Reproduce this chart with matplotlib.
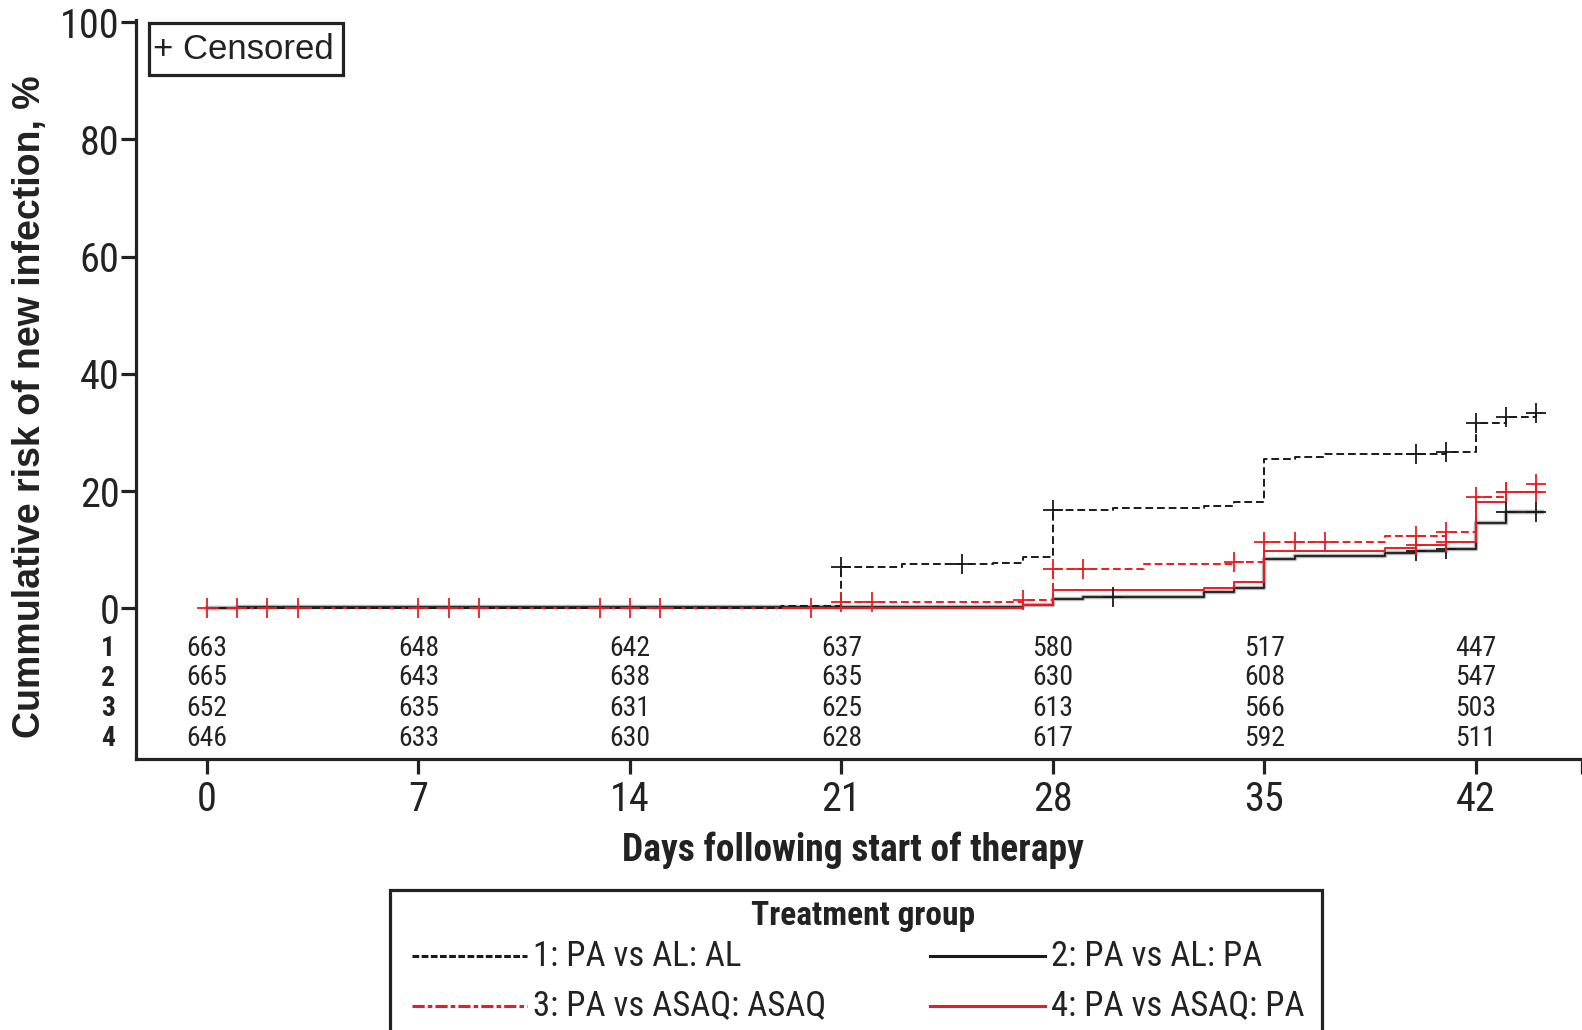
import numpy as np
import matplotlib
matplotlib.use("Agg")
import matplotlib.pyplot as plt
from matplotlib.lines import Line2D
from matplotlib.patches import Rectangle

# ---------------- data ----------------
days_ticks = [0, 7, 14, 21, 28, 35, 42]

s1_days = [0, 19, 21, 23, 26, 27, 28, 30, 33, 34, 35, 36, 37, 41, 42, 43, 44, 44.2]
s1_risk = [0, 0.4, 7.0, 7.5, 7.7, 8.7, 16.7, 17.2, 17.4, 18.1, 25.5, 25.9, 26.3, 26.6, 31.6, 32.7, 33.4, 33.4]
s1_cens = [21, 25, 28, 40, 41, 42, 43, 44]

s2_days = [0, 1, 27, 28, 29, 33, 34, 35, 36, 39, 40, 41, 42, 43, 44.2]
s2_risk = [0, 0.3, 0.5, 1.6, 2.0, 2.8, 3.4, 8.4, 8.9, 9.5, 9.8, 10.2, 14.5, 16.4, 16.4]
s2_cens = [30, 40, 41, 43, 44]

s3_days = [0, 21, 27, 28, 31, 34, 35, 39, 41, 42, 43, 44, 44.2]
s3_risk = [0, 1.1, 1.5, 6.8, 7.5, 7.9, 11.4, 12.4, 13.0, 19.0, 19.8, 21.2, 21.2]
s3_cens = [1, 3, 8, 13, 15, 21, 22, 27, 28, 29, 34, 35, 36, 37, 40, 41, 42, 43, 44]

s4_days = [0, 27, 28, 33, 34, 35, 39, 40, 41, 42, 43, 44.2]
s4_risk = [0, 0.6, 3.1, 3.5, 4.5, 9.8, 10.3, 10.85, 11.4, 18.1, 19.8, 19.8]
s4_cens = [0, 2, 7, 9, 14, 20, 40, 41, 43, 44]

risk_rows = ["1", "2", "3", "4"]
at_risk = [
    [663, 648, 642, 637, 580, 517, 447],
    [665, 643, 638, 635, 630, 608, 547],
    [652, 635, 631, 625, 613, 566, 503],
    [646, 633, 630, 628, 617, 592, 511],
]
legend_labels = ["1: PA vs AL: AL", "2: PA vs AL: PA", "3: PA vs ASAQ: ASAQ", "4: PA vs ASAQ: PA"]

# ---------------- style ----------------
W, H = 1582, 1030
S = 1582 / 1568.0  # layout measured on the 1568-wide view
RED = "#ec1c24"
INK = "#222222"
NARROW = ["Roboto Condensed", "Archivo Narrow", "DejaVu Sans"]
REG = ["Liberation Sans", "DejaVu Sans"]

fig = plt.figure(figsize=(W / 100, H / 100), dpi=100)

def fx(px):
    return px * S / W

def fy(py):
    return 1 - py * S / H

ax_left, ax_right, ax_top, ax_bot = 135, 1568, 20, 752
ax = fig.add_axes([fx(ax_left), fy(ax_bot), fx(ax_right - ax_left), (ax_bot - ax_top) * S / H])

# x: day0 at 205px, day42 at 1462px (1568-wide view)
ppd = (1462 - 205) / 42.0
xl = (ax_left - 205) / ppd
xr = (ax_right - 1 - 205) / ppd
ax.set_xlim(xl, xr)
# y: 0 at 603px, 100 at 22px
ppu = (603 - 22) / 100.0
yb = -(ax_bot - 603) / ppu
yt = (603 - ax_top) / ppu
ax.set_ylim(yb, yt)

for s in ["top", "right"]:
    ax.spines[s].set_visible(False)
for s in ["left", "bottom"]:
    ax.spines[s].set_linewidth(2.3)
    ax.spines[s].set_color(INK)

ax.set_yticks([0, 20, 40, 60, 80, 100])
ax.set_yticklabels(["0", "20", "40", "60", "80", "100"], fontsize=29, family=NARROW, color=INK)
ax.set_xticks(days_ticks)
ax.set_xticklabels([str(d) for d in days_ticks], fontsize=29, family=NARROW, color=INK)
ax.set_xticks([xr], minor=True)
ax.tick_params(axis="both", which="both", length=11, width=2.3, color=INK, pad=1)
ax.tick_params(axis="x", pad=4)


def cens_y(days, risk, c):
    idx = np.searchsorted(np.asarray(days), np.asarray(c), side="right") - 1
    return np.asarray(risk)[idx]

# series 2 with grey shadow
ax.step(s2_days, s2_risk, where="post", color="#b5b5b5", lw=3.2, zorder=2)
ax.step(s2_days, s2_risk, where="post", color="#1a1a1a", lw=1.3, zorder=3)
ax.step(s4_days, s4_risk, where="post", color=RED, lw=1.4, zorder=4)
ax.step(s3_days, s3_risk, where="post", color=RED, lw=1.4, dashes=(4, 2), zorder=5)
ax.step(s1_days, s1_risk, where="post", color="#1a1a1a", lw=1.4, dashes=(4, 2), zorder=6)

mk = dict(marker="+", ms=15, mew=1.3, ls="none")
ax.plot(s2_cens, cens_y(s2_days, s2_risk, s2_cens), color="#1a1a1a", zorder=7, **mk)
ax.plot(s4_cens, cens_y(s4_days, s4_risk, s4_cens), color=RED, zorder=7, **mk)
ax.plot(s3_cens, cens_y(s3_days, s3_risk, s3_cens), color=RED, zorder=7, **mk)
ax.plot(s1_cens, cens_y(s1_days, s1_risk, s1_cens), color="#1a1a1a", zorder=8, **mk)

# numbers at risk inside axes below 0
row_py = [643, 672, 702, 732]
for r, (lab, vals) in enumerate(zip(risk_rows, at_risk)):
    yv = (603 - row_py[r]) / ppu
    for d, v in zip(days_ticks, vals):
        ax.text(d, yv, str(v), ha="center", va="center", fontsize=20, family=NARROW, color=INK)
    fig.text(fx(107), fy(row_py[r]), lab, ha="center", va="center", fontsize=20,
             family=NARROW, weight="bold", color=INK)

# axis labels
fig.text(fx(30), fy(403), "Cummulative risk of new infection, %", rotation=90, ha="center",
         va="center", fontsize=27, weight="bold", family=REG, color=INK)
fig.text(fx(845), fy(843), "Days following start of therapy", ha="center", va="center",
         fontsize=27, weight="bold", family=NARROW, color=INK)

# censored box
fig.patches.append(Rectangle((fx(148), fy(74)), fx(340 - 148), (74 - 23) * S / H, transform=fig.transFigure,
                             fill=False, lw=2.3, edgecolor=INK))
fig.text(fx(152), fy(49), "+ Censored", ha="left", va="center", fontsize=25, family=REG, color=INK)

# legend box
fig.patches.append(Rectangle((fx(387), fy(1045)), fx(1310 - 387), (1045 - 882) * S / H,
                             transform=fig.transFigure, fill=False, lw=2.3, edgecolor=INK,
                             clip_on=False))
fig.text(fx(855), fy(908), "Treatment group", ha="center", va="center", fontsize=24,
         weight="bold", family=NARROW, color=INK)
leg_styles = [
    dict(color="#1a1a1a", dashes=(2.2, 0.8)),
    dict(color="#1a1a1a"),
    dict(color=RED, dashes=(4, 1, 1.5, 1)),
    dict(color=RED),
]
pos = [(408, 948), (922, 948), (408, 997), (922, 997)]
for (px, py), lab, st in zip(pos, legend_labels, leg_styles):
    fig.add_artist(Line2D([fx(px), fx(px + 114)], [fy(py), fy(py)], transform=fig.transFigure,
                          lw=2.2, **st))
    fig.text(fx(px + 120), fy(py), lab, ha="left", va="center", fontsize=25, family=NARROW,
             color=INK)

fig.savefig("out.png", dpi=100)
